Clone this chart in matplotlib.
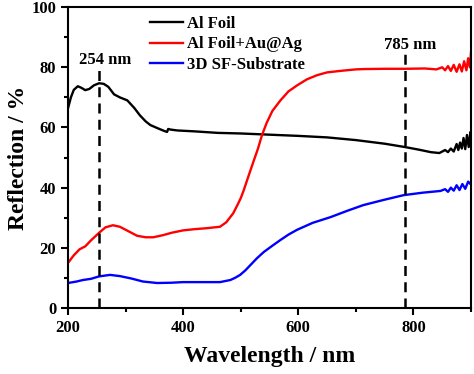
import numpy as np
import matplotlib
matplotlib.use('Agg')
import matplotlib.pyplot as plt
from matplotlib.ticker import MultipleLocator

# Reflection spectra
wl_foil = [200, 205, 210, 217, 223, 230, 237, 245, 254, 262, 270, 280, 290, 303, 315, 325, 335, 343, 355,
           365, 372, 374, 378, 390, 420, 460, 500, 550, 600, 650, 700, 750, 785, 810, 830, 845, 855, 860,
           865, 870, 875, 878, 881, 884, 887, 890, 893, 896, 899, 900]
r_foil = [66.4, 70, 72.5, 73.7, 73.2, 72.4, 72.8, 74, 74.7, 74.5, 73.5, 71, 70, 69, 66.5, 64, 62, 60.8, 59.8,
          59, 58.5, 59.5, 59.3, 59, 58.7, 58.2, 58, 57.6, 57.2, 56.7, 55.8, 54.6, 53.5, 52.6, 51.8, 51.5, 52.5,
          51.8, 53, 52, 54.5, 52.5, 55, 53, 56.5, 52.8, 57.5, 53.5, 58.5, 55]

wl_auag = [200, 210, 220, 230, 240, 254, 265, 278, 290, 305, 320, 335, 348, 365, 380, 400, 420, 440, 464,
           475, 487, 495, 500, 505, 512, 520, 530, 537, 545, 555, 569, 583, 598, 615, 633, 650, 673, 700,
           713, 750, 785, 820, 840, 850, 855, 860, 865, 870, 875, 880, 884, 888, 892, 895, 898, 900]
r_auag = [15, 17.5, 19.5, 20.5, 22.5, 25, 26.8, 27.5, 27, 25.5, 24, 23.5, 23.5, 24.2, 25, 25.8, 26.2, 26.5, 27,
          28.5, 31.5, 34.5, 36.5, 39, 43, 47.5, 53, 57.5, 61.5, 65.5, 69, 72, 74, 76, 77.4, 78.3, 78.8, 79.3,
          79.4, 79.5, 79.5, 79.6, 79.3, 80, 79, 80.4, 78.8, 80.8, 78.5, 81, 78.6, 82, 79, 83, 80, 85]

wl_sf = [200, 215, 226, 240, 254, 273, 290, 310, 330, 355, 380, 400, 430, 464, 482, 490, 499, 508, 517, 528,
         540, 555, 569, 583, 598, 625, 656, 685, 713, 750, 783, 815, 847, 855, 860, 865, 870, 875, 880, 885,
         890, 895, 900]
r_sf = [8.3, 8.8, 9.3, 9.7, 10.5, 11, 10.6, 9.8, 8.8, 8.3, 8.4, 8.6, 8.6, 8.6, 9.3, 10, 11, 12.5, 14.3, 16.5,
        18.6, 20.7, 22.6, 24.4, 26, 28.3, 30.2, 32.3, 34.2, 36, 37.5, 38.3, 38.9, 39.5, 38.6, 40, 39, 40.8,
        39.2, 41.2, 39.6, 42, 41]

labels = ['Al Foil', 'Al Foil+Au@Ag', '3D SF-Substrate']
colors = ['black', 'red', 'blue']

marks = [254, 785]
mark_tops = [80, 84.7]
mark_text_y = [82.4, 87.4]

plt.rcParams['font.family'] = 'Liberation Serif'
plt.rcParams['font.weight'] = 'bold'

fig = plt.figure(figsize=(4.74, 3.74), dpi=100)
ax = fig.add_axes([0.1435, 0.1765, 0.8502, 0.8045])

ax.plot(wl_foil, r_foil, color=colors[0], lw=1.7, label=labels[0])
ax.plot(wl_auag, r_auag, color=colors[1], lw=1.7, label=labels[1])
ax.plot(wl_sf, r_sf, color=colors[2], lw=1.7, label=labels[2])

for m, top, ty in zip(marks, mark_tops, mark_text_y):
    ax.plot([m, m], [0, top], color='black', lw=1.8, ls=(0, (4, 2.5)))
    ax.text(m + 10, ty, f'{m} nm', ha='center', va='center', fontsize=12, fontweight='bold')

ax.set_xlim(200, 900)
ax.set_ylim(0, 100)
ax.xaxis.set_major_locator(MultipleLocator(200))
ax.xaxis.set_minor_locator(MultipleLocator(100))
ax.yaxis.set_major_locator(MultipleLocator(20))
ax.yaxis.set_minor_locator(MultipleLocator(10))
ax.tick_params(which='both', direction='out', width=1.5, labelsize=12, top=False, right=False)
ax.tick_params(which='major', length=5)
ax.tick_params(which='minor', length=3)
for s in ax.spines.values():
    s.set_linewidth(1.5)

ax.set_xlabel('Wavelength / nm', fontsize=17, fontweight='bold', labelpad=7)
ax.set_ylabel('Reflection / %', fontsize=17, fontweight='bold', labelpad=2)

ax.legend(loc='upper left', bbox_to_anchor=(0.18, 1.0), frameon=False,
          handlelength=2.0, labelspacing=0.25, handletextpad=0.25, borderaxespad=0.15,
          prop={'weight': 'bold', 'size': 12})

fig.savefig('out.png', dpi=100)
